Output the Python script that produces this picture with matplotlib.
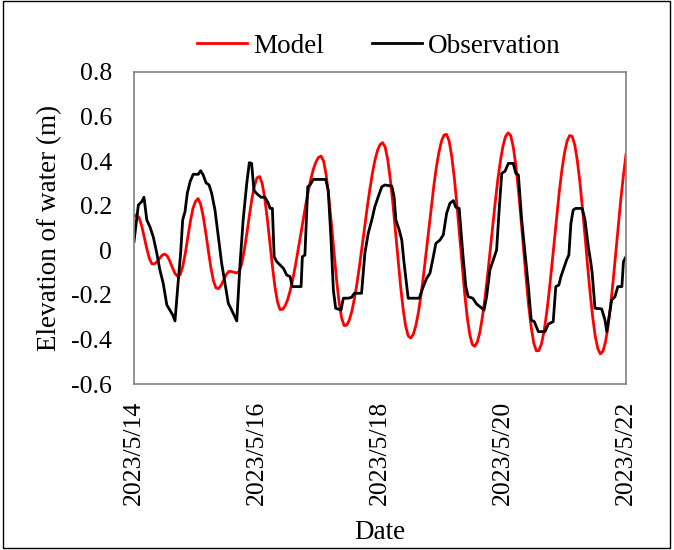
import matplotlib
matplotlib.use("Agg")
from matplotlib import pyplot as plt
from matplotlib.patches import Rectangle
import pandas as pd

# start of the record
START = pd.Timestamp("2023-05-14")

# model elevation (m), one value every hour
model_values = [
    0.150, 0.160, 0.146, 0.110, 0.059, 0.007, -0.037, -0.061, -0.061, -0.051,
    -0.036, -0.022, -0.017, -0.026, -0.049, -0.078, -0.104, -0.117, -0.110, -0.074,
    -0.015, 0.058, 0.130, 0.188, 0.219, 0.232, 0.207, 0.153, 0.080, -0.001,
    -0.078, -0.137, -0.169, -0.172, -0.157, -0.133, -0.109, -0.095, -0.095, -0.099,
    -0.102, -0.096, -0.062, -0.002, 0.072, 0.154, 0.230, 0.289, 0.325, 0.331,
    0.301, 0.236, 0.143, 0.037, -0.070, -0.164, -0.232, -0.266, -0.265, -0.249,
    -0.220, -0.179, -0.128, -0.068, -0.002, 0.066, 0.136, 0.203, 0.264, 0.319,
    0.364, 0.396, 0.417, 0.423, 0.400, 0.338, 0.240, 0.124, -0.004, -0.127,
    -0.230, -0.303, -0.338, -0.336, -0.314, -0.274, -0.218, -0.150, -0.070, 0.015,
    0.103, 0.191, 0.271, 0.343, 0.403, 0.447, 0.474, 0.483, 0.464, 0.408,
    0.321, 0.213, 0.090, -0.038, -0.157, -0.261, -0.340, -0.384, -0.394, -0.377,
    -0.337, -0.278, -0.200, -0.111, -0.011, 0.093, 0.193, 0.289, 0.373, 0.440,
    0.490, 0.517, 0.520, 0.489, 0.421, 0.325, 0.205, 0.072, -0.062, -0.189,
    -0.297, -0.376, -0.422, -0.431, -0.411, -0.366, -0.297, -0.212, -0.110, -0.001,
    0.110, 0.219, 0.319, 0.402, 0.468, 0.511, 0.527, 0.515, 0.464, 0.382,
    0.272, 0.144, 0.010, -0.124, -0.248, -0.345, -0.416, -0.451, -0.450, -0.420,
    -0.365, -0.285, -0.187, -0.076, 0.040, 0.157, 0.267, 0.361, 0.437, 0.490,
    0.515, 0.511, 0.473, 0.403, 0.307, 0.190, 0.064, -0.068, -0.192, -0.300,
    -0.386, -0.441, -0.465, -0.453, -0.411, -0.341, -0.247, -0.135, -0.013, 0.112,
    0.231, 0.336, 0.430,
]

# observation: hours after 2023/5/14 00:00 and elevation (m)
obs_hours = [
    0.0, 1.7, 3.0, 3.9, 5.0, 6.2, 7.5, 8.9, 10.1, 11.4,
    12.8, 14.0, 15.1, 16.0, 17.3, 18.2, 19.0, 19.9, 20.8, 21.9,
    23.1, 25.1, 26.0, 27.0, 28.1, 29.3, 30.3, 31.6, 32.9, 34.2,
    35.5, 36.8, 38.1, 39.0, 40.1, 41.4, 42.6, 44.0, 45.0, 45.9,
    46.8, 47.2, 48.5, 49.6, 51.1, 52.4, 53.1, 54.0, 54.7, 55.7,
    57.0, 58.3, 59.6, 60.9, 61.8, 65.2, 65.7, 66.7, 67.8, 68.7,
    70.0, 74.8, 75.8, 76.9, 77.8, 78.7, 80.8, 81.7, 83.6, 84.9,
    86.0, 88.8, 90.1, 91.4, 92.8, 94.0, 95.3, 96.7, 97.9, 100.6,
    101.5, 102.2, 103.5, 104.5, 105.4, 107.0, 111.3, 112.9, 114.2, 115.5,
    116.8, 117.8, 119.4, 120.7, 122.0, 123.3, 124.6, 125.6, 126.9, 128.3,
    129.5, 130.4, 132.2, 133.7, 135.0, 136.6, 137.6, 138.9, 140.2, 141.5,
    142.5, 143.5, 144.8, 146.1, 148.0, 149.0, 150.0, 151.3, 152.6, 153.9,
    155.0, 156.2, 157.8, 160.4, 161.7, 163.6, 164.6, 165.8, 166.6, 167.9,
    168.8, 169.7, 170.5, 171.4, 172.4, 174.9, 176.0, 177.3, 178.3, 178.8,
    179.9, 182.5, 183.8, 184.5, 185.4, 186.4, 187.7, 188.8, 190.4, 191.0,
    192.0,
]
obs_values = [
    0.039, 0.203, 0.218, 0.238, 0.136, 0.106, 0.061, -0.013, -0.088, -0.148,
    -0.245, -0.268, -0.290, -0.317, -0.133, -0.013, 0.136, 0.173, 0.256, 0.308,
    0.341, 0.341, 0.357, 0.338, 0.303, 0.293, 0.256, 0.181, 0.061, -0.058,
    -0.148, -0.238, -0.268, -0.290, -0.317, -0.058, 0.136, 0.300, 0.393, 0.390,
    0.270, 0.263, 0.248, 0.238, 0.238, 0.211, 0.188, 0.188, -0.029, -0.051,
    -0.066, -0.081, -0.111, -0.118, -0.163, -0.163, -0.029, -0.021, 0.285, 0.293,
    0.318, 0.318, 0.270, 0.046, -0.178, -0.260, -0.268, -0.215, -0.215, -0.211,
    -0.193, -0.193, -0.013, 0.076, 0.136, 0.196, 0.240, 0.285, 0.293, 0.288,
    0.240, 0.136, 0.091, 0.046, -0.058, -0.215, -0.215, -0.163, -0.126, -0.103,
    -0.029, 0.031, 0.046, 0.069, 0.166, 0.211, 0.223, 0.193, 0.188, -0.013,
    -0.163, -0.208, -0.215, -0.241, -0.253, -0.268, -0.208, -0.088, -0.044, 0.001,
    0.181, 0.345, 0.355, 0.390, 0.390, 0.345, 0.338, 0.136, -0.013, -0.163,
    -0.313, -0.320, -0.365, -0.365, -0.331, -0.320, -0.163, -0.156, -0.118, -0.074,
    -0.044, -0.021, 0.121, 0.181, 0.188, 0.188, 0.136, 0.016, -0.058, -0.103,
    -0.260, -0.263, -0.313, -0.365, -0.298, -0.223, -0.208, -0.163, -0.163, -0.051,
    -0.029,
]

x_ticks = ["2023-05-14", "2023-05-16", "2023-05-18", "2023-05-20", "2023-05-22"]
x_tick_labels = ["2023/5/14", "2023/5/16", "2023/5/18", "2023/5/20", "2023/5/22"]
y_ticks = [-0.6, -0.4, -0.2, 0.0, 0.2, 0.4, 0.6, 0.8]
y_tick_labels = ["-0.6", "-0.4", "-0.2", "0", "0.2", "0.4", "0.6", "0.8"]

plt.rcParams["font.family"] = ["Liberation Serif", "DejaVu Serif"]
plt.rcParams["axes.unicode_minus"] = False

model_time = pd.date_range(START, periods=len(model_values), freq="h")
obs_time = START + pd.to_timedelta(obs_hours, unit="h")

fig = plt.figure(figsize=(6.74, 5.5), dpi=100)
ax = fig.add_axes([134 / 674, 1 - 384 / 550, 492 / 674, 312 / 550])

ax.plot(model_time, model_values, color="#ff0000", lw=2.0, label="Model")
ax.plot(obs_time, obs_values, color="black", lw=2.0, label="Observation")

ax.set_xlim(pd.Timestamp(x_ticks[0]), pd.Timestamp(x_ticks[-1]))
ax.set_ylim(-0.6, 0.8)
ax.set_xticks(pd.to_datetime(x_ticks))
ax.set_xticklabels(x_tick_labels, rotation=90, fontsize=18.5)
ax.set_yticks(y_ticks)
ax.set_yticklabels(y_tick_labels, fontsize=18.5)
ax.tick_params(axis="x", length=0, pad=12)
ax.tick_params(axis="y", length=0, pad=16)

for side in ax.spines.values():
    side.set_color("#808080")
    side.set_linewidth(1.2)

ax.set_xlabel("Date", fontsize=19.5, labelpad=11)
ax.set_ylabel("Elevation of water (m)", fontsize=19.5, labelpad=6)

fig.legend(loc="center", bbox_to_anchor=(0.562, 0.916), ncol=2,
           frameon=False, fontsize=19.5, handlelength=1.85, handletextpad=0.22,
           columnspacing=1.78)

# thin frame round the whole picture
fig.patches.append(Rectangle((3 / 674, 2 / 550), 667 / 674, 547 / 550,
                             transform=fig.transFigure, fill=False,
                             ec="black", lw=1))

fig.savefig("out.png", dpi=100)
